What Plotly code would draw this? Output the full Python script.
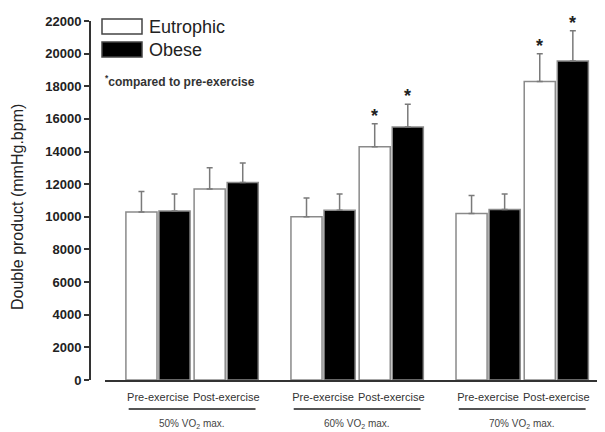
import plotly.graph_objects as go

# ---- data ----
conditions = ["Pre-exercise", "Post-exercise"] * 3
intensity_labels = ["50% VO<sub>2</sub> max.", "60% VO<sub>2</sub> max.", "70% VO<sub>2</sub> max."]
x_pos = [0, 1, 2.42, 3.42, 4.84, 5.84]

eutrophic_mean = [10300, 11700, 10000, 14300, 10200, 18300]
eutrophic_sd = [1250, 1300, 1150, 1400, 1100, 1700]
obese_mean = [10350, 12100, 10400, 15500, 10450, 19550]
obese_sd = [1050, 1200, 1000, 1400, 950, 1850]
significant = [False, False, False, True, False, True]

y_ticks = list(range(0, 22001, 2000))
y_ticktext = ["<b>%d</b>" % v for v in y_ticks]

FONT = "Liberation Sans, Arial, sans-serif"
BARGAP = 0.03
half_off = (1 - BARGAP) / 4

# page body has an 8px margin; lay out in page pixels
OFF = 8
L, T, B_ABS = 90, 21, 380          # page-pixel plot box edges
W, H = 605 - OFF, 432 - OFF
PW = 605 - L                        # plot width in px
PH = B_ABS - T                      # plot height in px


def px_x(p):
    return (p - L) / PW


def px_y(p):
    return (B_ABS - p) / PH


fig = go.Figure()
fig.add_trace(go.Bar(
    x=x_pos, y=eutrophic_mean, name="Eutrophic",
    marker=dict(color="white", line=dict(color="#8a8a8a", width=1.5)),
    error_y=dict(type="data", array=eutrophic_sd, arrayminus=[0] * 6, symmetric=False,
                 color="#7a7a7a", thickness=1.5, width=3),
))
fig.add_trace(go.Bar(
    x=x_pos, y=obese_mean, name="Obese",
    marker=dict(color="black", line=dict(color="#8a8a8a", width=1.5)),
    error_y=dict(type="data", array=obese_sd, arrayminus=[0] * 6, symmetric=False,
                 color="#7a7a7a", thickness=1.5, width=3),
))

annotations = []
for i, sig in enumerate(significant):
    if sig:
        for off, m, s in ((-half_off, eutrophic_mean[i], eutrophic_sd[i]),
                          (half_off, obese_mean[i], obese_sd[i])):
            annotations.append(dict(x=x_pos[i] + off, y=m + s, xref="x", yref="y",
                                    text="<b>*</b>", showarrow=False, yanchor="middle",
                                    yshift=8, font=dict(family=FONT, size=18, color="#222")))

shapes = []
for g in range(3):
    c = (x_pos[2 * g] + x_pos[2 * g + 1]) / 2
    shapes.append(dict(type="line", xref="x", yref="paper", x0=c - 0.93, x1=c + 0.93,
                       y0=px_y(409), y1=px_y(409), line=dict(color="#555", width=2)))
    annotations.append(dict(x=c, y=px_y(424), xref="x", yref="paper", text=intensity_labels[g],
                            showarrow=False, yanchor="middle",
                            font=dict(family=FONT, size=10, color="#444")))

shapes.append(dict(type="rect", xref="paper", yref="paper", x0=px_x(102), x1=px_x(142),
                   y0=px_y(34), y1=px_y(19), fillcolor="white", line=dict(color="#444", width=1.5)))
shapes.append(dict(type="rect", xref="paper", yref="paper", x0=px_x(102), x1=px_x(142),
                   y0=px_y(57), y1=px_y(42), fillcolor="black", line=dict(color="#444", width=1.5)))
annotations.append(dict(x=px_x(147), y=px_y(27), xref="paper", yref="paper", text="Eutrophic",
                        showarrow=False, xanchor="left", yanchor="middle",
                        font=dict(family=FONT, size=18, color="#222")))
annotations.append(dict(x=px_x(147), y=px_y(50), xref="paper", yref="paper", text="Obese",
                        showarrow=False, xanchor="left", yanchor="middle",
                        font=dict(family=FONT, size=18, color="#222")))
annotations.append(dict(x=px_x(103), y=px_y(81), xref="paper", yref="paper",
                        text="<b><sup>*</sup>compared to pre-exercise</b>",
                        showarrow=False, xanchor="left", yanchor="middle",
                        font=dict(family=FONT, size=12, color="#333")))
annotations.append(dict(x=px_x(18), y=px_y(207), xref="paper", yref="paper",
                        text="Double product (mmHg.bpm)", textangle=-90, showarrow=False,
                        xanchor="center", yanchor="middle",
                        font=dict(family=FONT, size=16, color="#222")))

fig.update_layout(
    width=W, height=H,
    margin=dict(l=L - OFF, r=0, t=T - OFF, b=H - (B_ABS - OFF)),
    paper_bgcolor="white", plot_bgcolor="white",
    barmode="group", bargap=BARGAP, bargroupgap=0.06,
    showlegend=False,
    font=dict(family=FONT),
    xaxis=dict(domain=[15 / PW, 1], range=[-0.777, 6.554],
               tickvals=x_pos, ticktext=conditions,
               showline=True, linecolor="#333", linewidth=2,
               ticks="outside", ticklen=6, tickcolor="rgba(0,0,0,0)",
               tickfont=dict(family=FONT, size=11, color="#333"),
               showgrid=False, zeroline=False),
    yaxis=dict(range=[0, 22000], tickvals=y_ticks, ticktext=y_ticktext,
               anchor="free", position=0,
               showline=True, linecolor="#333", linewidth=2,
               ticks="outside", ticklen=5, tickwidth=2, tickcolor="#333",
               tickfont=dict(family=FONT, size=13, color="#222"),
               showgrid=False, zeroline=False),
    annotations=annotations,
    shapes=shapes,
)

fig.write_html("out.html")
